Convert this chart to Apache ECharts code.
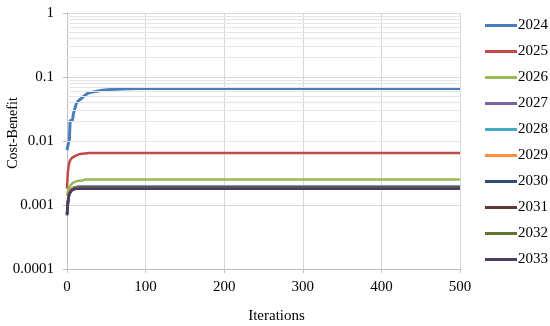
<!DOCTYPE html>
<html>
<head>
<meta charset="utf-8">
<script src="https://cdn.jsdelivr.net/npm/echarts@6/dist/echarts.min.js"></script>
<style>
  html, body { margin: 0; padding: 0; background: #fff; }
  #main { width: 550px; height: 326px; }
</style>
</head>
<body>
<div id="main"></div>
<script>
// iteration numbers where values were read
var iters = [0, 1, 2, 3, 4, 6, 7, 8, 10, 12, 15, 19, 23, 27, 32, 38, 45, 55, 70, 90, 120, 200, 300, 400, 500];

var y2024 = [0.0072, 0.0075, 0.0095, 0.0105, 0.021, 0.021, 0.021, 0.026, 0.032, 0.039, 0.043, 0.047, 0.052, 0.056, 0.058, 0.060, 0.062, 0.064, 0.065, 0.066, 0.066, 0.066, 0.066, 0.066, 0.066];
var y2025 = [0.0018, 0.0032, 0.0040, 0.0046, 0.0050, 0.0054, 0.0055, 0.0056, 0.0058, 0.0060, 0.0062, 0.0063, 0.0064, 0.0065, 0.0065, 0.0065, 0.0065, 0.0065, 0.0065, 0.0065, 0.0065, 0.0065, 0.0065, 0.0065, 0.0065];
var y2026 = [0.0014, 0.0016, 0.0018, 0.0019, 0.0020, 0.0021, 0.0022, 0.0022, 0.0023, 0.0023, 0.0024, 0.0024, 0.0025, 0.0025, 0.0025, 0.0025, 0.0025, 0.0025, 0.0025, 0.0025, 0.0025, 0.0025, 0.0025, 0.0025, 0.0025];
var y2027 = [0.00075, 0.0011, 0.0014, 0.0016, 0.0017, 0.00182, 0.00186, 0.00188, 0.0019, 0.00192, 0.00194, 0.00195, 0.00195, 0.00195, 0.00195, 0.00195, 0.00195, 0.00195, 0.00195, 0.00195, 0.00195, 0.00195, 0.00195, 0.00195, 0.00195];
var y2028 = [0.00074, 0.0011, 0.0014, 0.0016, 0.0017, 0.0018, 0.00184, 0.00186, 0.00188, 0.0019, 0.00191, 0.00192, 0.00192, 0.00192, 0.00192, 0.00192, 0.00192, 0.00192, 0.00192, 0.00192, 0.00192, 0.00192, 0.00192, 0.00192, 0.00192];
var y2029 = [0.00073, 0.0011, 0.0014, 0.0016, 0.0017, 0.0018, 0.00183, 0.00185, 0.00187, 0.00188, 0.00189, 0.0019, 0.0019, 0.0019, 0.0019, 0.0019, 0.0019, 0.0019, 0.0019, 0.0019, 0.0019, 0.0019, 0.0019, 0.0019, 0.0019];
var y2030 = [0.00072, 0.0011, 0.0013, 0.0015, 0.0016, 0.0017, 0.0018, 0.00182, 0.00184, 0.00185, 0.00186, 0.00187, 0.00187, 0.00187, 0.00187, 0.00187, 0.00187, 0.00187, 0.00187, 0.00187, 0.00187, 0.00187, 0.00187, 0.00187, 0.00187];
var y2031 = [0.0007, 0.001, 0.0013, 0.0015, 0.0016, 0.0017, 0.00178, 0.0018, 0.00182, 0.00183, 0.00184, 0.00185, 0.00185, 0.00185, 0.00185, 0.00185, 0.00185, 0.00185, 0.00185, 0.00185, 0.00185, 0.00185, 0.00185, 0.00185, 0.00185];
var y2032 = [0.0007, 0.001, 0.0013, 0.0015, 0.0016, 0.0017, 0.00176, 0.00178, 0.0018, 0.00181, 0.00182, 0.00182, 0.00182, 0.00182, 0.00182, 0.00182, 0.00182, 0.00182, 0.00182, 0.00182, 0.00182, 0.00182, 0.00182, 0.00182, 0.00182];
var y2033 = [0.00069, 0.001, 0.0013, 0.0015, 0.0016, 0.0017, 0.00175, 0.00177, 0.00178, 0.00179, 0.0018, 0.0018, 0.0018, 0.0018, 0.0018, 0.0018, 0.0018, 0.0018, 0.0018, 0.0018, 0.0018, 0.0018, 0.0018, 0.0018, 0.0018];

var years = ['2024', '2025', '2026', '2027', '2028', '2029', '2030', '2031', '2032', '2033'];
var values = [y2024, y2025, y2026, y2027, y2028, y2029, y2030, y2031, y2032, y2033];
var colors = ['#4A7EBB', '#BE4B48', '#98B954', '#7D60A0', '#46AAC5', '#F69240', '#2C4D75', '#5A3A33', '#5F7530', '#4D3B62'];

var yTicks = [0.0001, 0.001, 0.01, 0.1, 1];

// minor log gridlines 2..9 inside every decade
var minorLines = [];
for (var d = 0; d < yTicks.length - 1; d++) {
    for (var k = 2; k <= 9; k++) {
        minorLines.push({ yAxis: yTicks[d] * k });
    }
}

function pairs(arr) {
    return iters.map(function (x, i) { return [x, arr[i]]; });
}

var font = '"Liberation Serif", "Times New Roman", serif';

var series = [{
    name: 'grid',
    type: 'line',
    data: [],
    z: 1,
    markLine: {
        silent: true,
        symbol: 'none',
        label: { show: false },
        lineStyle: { color: '#e6e6e6', width: 1, type: 'solid' },
        data: minorLines,
        animation: false
    }
}];
years.forEach(function (yr, i) {
    series.push({
        name: yr,
        type: 'line',
        data: pairs(values[i]),
        showSymbol: false,
        lineStyle: { width: i === 0 ? 3 : 2.5, color: colors[i] },
        itemStyle: { color: colors[i] },
        z: 3
    });
});

var chart = echarts.init(document.getElementById('main'));
chart.setOption({
    animation: false,
    grid: { left: 67, right: 90, top: 13, bottom: 57, outerBoundsMode: 'none' },
    legend: {
        data: years,
        orient: 'vertical',
        left: 480,
        top: 13,
        icon: 'rect',
        itemWidth: 32,
        itemHeight: 3,
        itemGap: 11,
        textStyle: { fontFamily: font, fontSize: 15, lineHeight: 15, color: '#000', padding: [0, 0, 0, -4] }
    },
    xAxis: {
        type: 'value',
        min: 0,
        max: 500,
        interval: 100,
        name: 'Iterations',
        nameLocation: 'middle',
        nameGap: 40,
        nameMoveOverlap: false,
        nameTextStyle: { fontFamily: font, fontSize: 15, color: '#000', padding: [0, 0, 0, 26] },
        axisLine: { lineStyle: { color: '#bfbfbf' } },
        axisTick: { show: true, length: 4, lineStyle: { color: '#bfbfbf' } },
        axisLabel: { fontFamily: font, fontSize: 15, color: '#000', margin: 11 },
        splitLine: { show: true, lineStyle: { color: '#d9d9d9' } }
    },
    yAxis: {
        type: 'log',
        logBase: 10,
        min: 0.0001,
        max: 1,
        name: 'Cost-Benefit',
        nameLocation: 'middle',
        nameGap: 47,
        nameMoveOverlap: false,
        nameTextStyle: { fontFamily: font, fontSize: 14, color: '#000', padding: [0, 0, 0, 16] },
        axisLine: { show: true, lineStyle: { color: '#bfbfbf' } },
        axisTick: { show: true, length: 4, lineStyle: { color: '#bfbfbf' } },
        axisLabel: {
            fontFamily: font, fontSize: 15, color: '#000', margin: 13,
            formatter: function (v) { return String(+v.toPrecision(1)); }
        },
        splitLine: { show: true, lineStyle: { color: '#d9d9d9' } }
    },
    series: series
});
</script>
</body>
</html>
